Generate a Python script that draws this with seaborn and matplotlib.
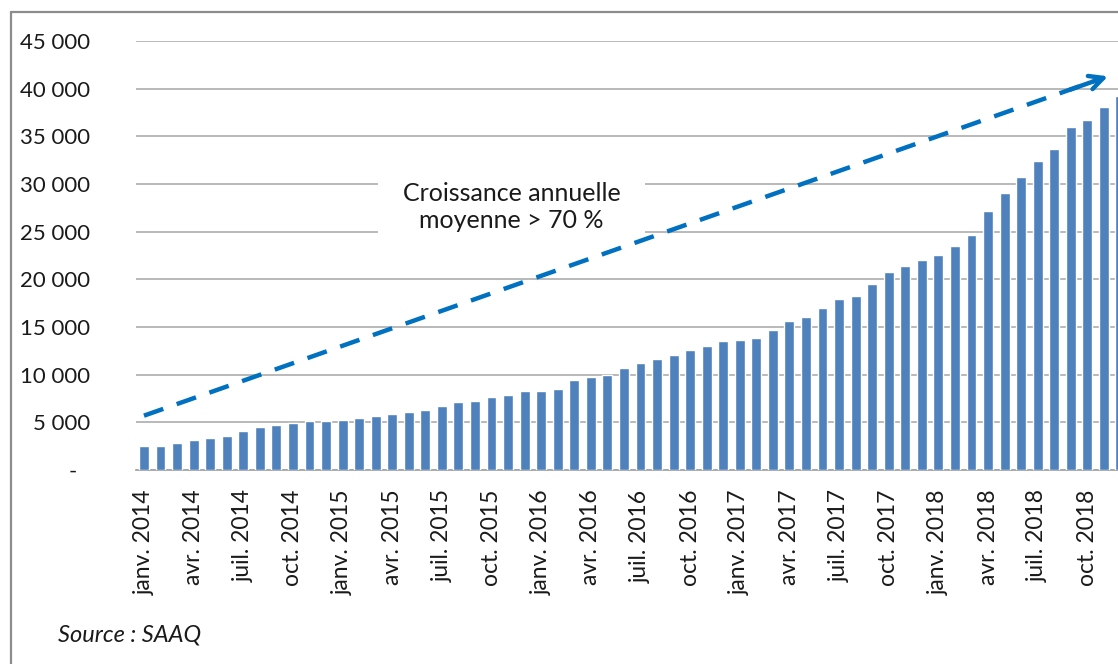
import matplotlib
matplotlib.use("Agg")
import matplotlib.pyplot as plt
import matplotlib.transforms as mtransforms
from matplotlib.lines import Line2D
import seaborn as sns
import pandas as pd

# ---- data ----
month_names = ["janv.", "févr.", "mars", "avr.", "mai", "juin",
               "juil.", "août", "sept.", "oct.", "nov.", "déc."]
years = [2014, 2015, 2016, 2017, 2018]
months = [f"{m} {y}" for y in years for m in month_names]
values = [2550, 2550, 2800, 3180, 3320, 3560, 4050, 4470, 4720, 4890, 5100, 5100,
          5240, 5480, 5630, 5870, 6110, 6260, 6740, 7130, 7270, 7640, 7900, 8250,
          8250, 8520, 9400, 9780, 9990, 10660, 11180, 11600, 12050, 12580, 12960, 13490,
          13630, 13840, 14640, 15620, 16100, 17000, 17920, 18290, 19460, 20720, 21450, 21980,
          22600, 23510, 24630, 27180, 29070, 30710, 32390, 33650, 35950, 36690, 38080, 39240]
y_ticks = [0, 5000, 10000, 15000, 20000, 25000, 30000, 35000, 40000, 45000]
y_tick_labels = ["-", "5 000", "10 000", "15 000", "20 000", "25 000",
                 "30 000", "35 000", "40 000", "45 000"]
trend_x = [0.0, 58.25]
trend_y = [5700, 41300]
annotation = "Croissance annuelle\nmoyenne > 70 %"
source = "Source : SAAQ"

df = pd.DataFrame({"mois": months, "valeur": values})

sns.set_style("white")
plt.rcParams["font.family"] = ["Lato", "DejaVu Sans"]

W, H = 1118, 664
fig = plt.figure(figsize=(W / 100, H / 100), dpi=100)
ax = fig.add_axes([135.7 / W, 1 - 470 / H, 1 - 135.7 / W, (470 - 41) / H])

sns.barplot(data=df, x="mois", y="valeur", color="#4F81BD", saturation=1,
            width=0.6, ax=ax, zorder=3)

ax.set_xlim(-0.5, (W - 135.7) / 16.55 - 0.5)
ax.set_ylim(0, 45000)
ax.set_yticks(y_ticks)
ax.set_yticklabels(y_tick_labels, fontsize=16, color="#1a1a1a")
ax.tick_params(axis="y", length=0, pad=33)
ax.set_xticks(range(0, len(months), 3))
ax.set_xticklabels(months[::3], rotation=90, fontsize=16.5, color="#1a1a1a")
ax.tick_params(axis="x", length=0, pad=14)
ax.set_xlabel("")
ax.set_ylabel("")

# shift the zero label "-" a little to the left
zl = ax.get_yticklabels()[0]
zl.set_transform(zl.get_transform() + mtransforms.ScaledTranslation(-13 / 100, 0, fig.dpi_scale_trans))

ax.grid(axis="y", color="#A6A6A6", linewidth=1.1, zorder=0)
ax.grid(axis="x", visible=False)
ax.set_axisbelow(True)
for s in ["top", "right", "left"]:
    ax.spines[s].set_visible(False)
ax.spines["bottom"].set_color("#A6A6A6")
ax.spines["bottom"].set_linewidth(1.3)

# annotation text with white box
ax.text(22.2, 27600, annotation, ha="center", va="center", fontsize=18,
        linespacing=1.25, color="#1a1a1a", zorder=4,
        bbox=dict(boxstyle="square,pad=1.0", fc="white", ec="none"))

# dashed trend arrow
blue = "#0070C0"
frac = 0.985
ex = trend_x[0] + (trend_x[1] - trend_x[0]) * frac
ey = trend_y[0] + (trend_y[1] - trend_y[0]) * frac
ax.plot([trend_x[0], ex], [trend_y[0], ey], color=blue, lw=3.2,
        dashes=(4.6, 3.2), solid_capstyle="butt", dash_capstyle="butt",
        zorder=5, clip_on=False)
ax.annotate("", xy=(trend_x[1], trend_y[1]),
            xytext=(trend_x[0] + (trend_x[1] - trend_x[0]) * 0.96,
                    trend_y[0] + (trend_y[1] - trend_y[0]) * 0.96),
            arrowprops=dict(arrowstyle="->,head_length=1.0,head_width=0.5",
                            color=blue, lw=3.2, shrinkA=0, shrinkB=0),
            zorder=6, annotation_clip=False)

# source
fig.text(58 / W, 1 - 635 / H, source, fontsize=17, style="italic",
         color="#1a1a1a", ha="left", va="center")

# outer frame (left and top only visible)
frame_c = "#8C8C8C"
fig.add_artist(Line2D([10.5 / W, 10.5 / W], [0, 1 - 12 / H], color=frame_c, lw=1.6))
fig.add_artist(Line2D([10.5 / W, 1], [1 - 12 / H, 1 - 12 / H], color=frame_c, lw=1.6))

fig.savefig("out.png", dpi=100)
